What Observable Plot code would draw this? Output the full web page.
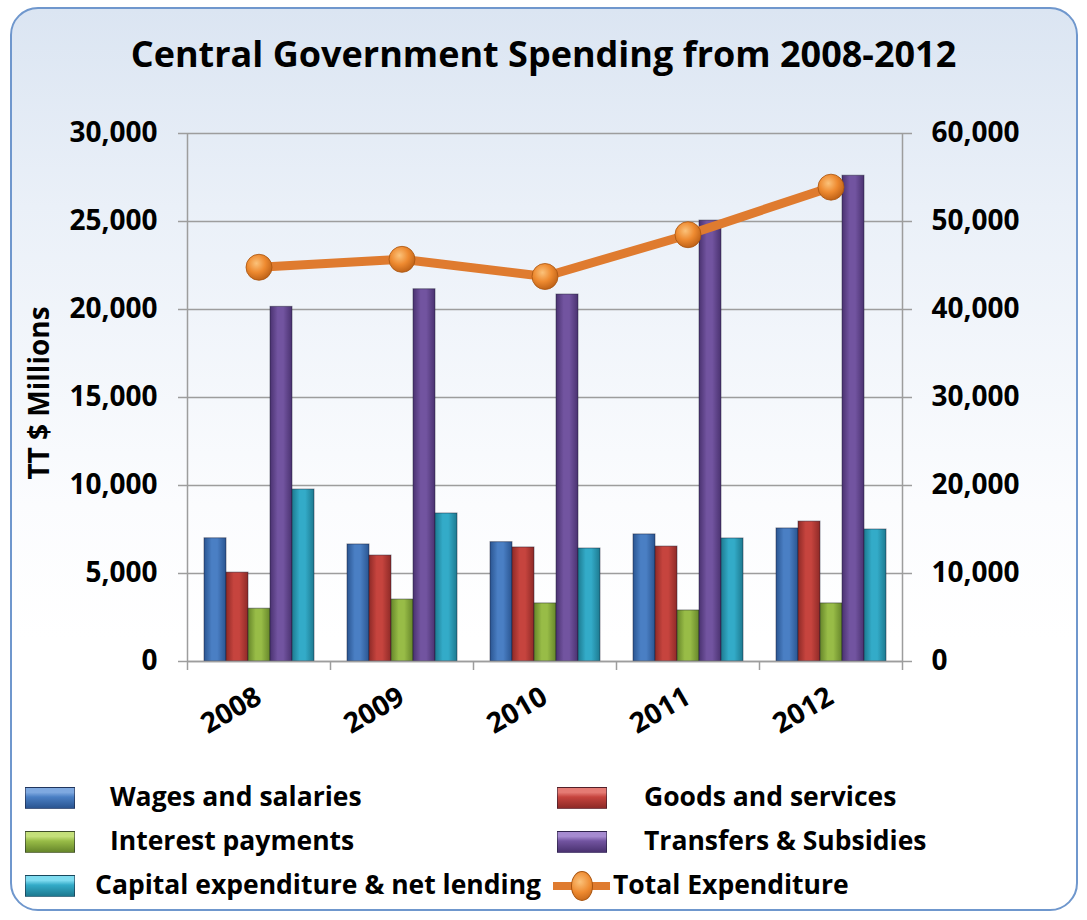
<!DOCTYPE html>
<html><head><meta charset="utf-8">
<script src="https://cdn.jsdelivr.net/npm/d3@7"></script>
<script src="https://cdn.jsdelivr.net/npm/@observablehq/plot@0.6"></script>
<style>
html,body{margin:0;padding:0;background:#fff;overflow:hidden;}
body{font-family:"Open Sans",Lato,sans-serif;width:1087px;height:920px;position:relative;}
#card{position:absolute;left:10px;top:7px;width:1068px;height:904px;border:2.5px solid #6f97cd;border-radius:28px;
  background:linear-gradient(to bottom,#dbe5f2 0%,#eaf0f8 22%,#fbfcfe 55%,#ffffff 70%);box-sizing:border-box;}
#title{position:absolute;left:0;width:1087px;top:30px;text-align:center;font-weight:700;font-size:36px;line-height:48px;color:#000;}
#ylabel{position:absolute;left:38px;top:393px;transform:translate(-50%,-50%) rotate(-90deg);font-weight:700;font-size:28px;white-space:nowrap;color:#000;}
.layer{position:absolute;left:0;top:0;}
.layer svg{background:transparent !important;--plot-background:transparent;overflow:visible;}
.leg{position:absolute;font-weight:700;font-size:26.5px;line-height:30px;white-space:nowrap;color:#000;}
.sw{position:absolute;width:50px;height:22px;box-sizing:border-box;border:1px solid rgba(20,20,40,0.5);}
</style>
</head><body>
<svg width="0" height="0" style="position:absolute">
  <defs id="defs"></defs>
</svg>
<div id="card"></div>
<div id="title">Central Government Spending from 2008-2012</div>
<div id="ylabel">TT $ Millions</div>
<div id="layerA" class="layer"></div>
<div id="layerB" class="layer"></div>
<div id="legend"></div>
<script>
// ---- data ----
const years = ["2008", "2009", "2010", "2011", "2012"];
const seriesNames = ["Wages and salaries", "Goods and services", "Interest payments", "Transfers & Subsidies", "Capital expenditure & net lending"];
const wages = [7000, 6650, 6780, 7220, 7560];
const goods = [5050, 6020, 6480, 6530, 7950];
const interest = [3000, 3520, 3300, 2900, 3300];
const transfers = [20150, 21150, 20850, 25050, 27600];
const capital = [9770, 8410, 6420, 6990, 7500];
const totalName = "Total Expenditure";
const total = [44800, 45700, 43750, 48500, 53900];
const leftTicks = [0, 5000, 10000, 15000, 20000, 25000, 30000];
const rightTicks = [0, 10000, 20000, 30000, 40000, 50000, 60000];

// ---- styles ----
const palette = [
  {main: "#4a7fc4", light: "#7fa9e0", dark: "#2a5591"},
  {main: "#c6443e", light: "#e57b74", dark: "#8e2a27"},
  {main: "#98bc47", light: "#c4e07a", dark: "#66862a"},
  {main: "#7254a0", light: "#a68bd0", dark: "#4a3270"},
  {main: "#33abc8", light: "#7fdcf0", dark: "#1d7a90"}
];
const defs = document.getElementById("defs");
let defsHtml = "";
palette.forEach((p, k) => {
  defsHtml += `<linearGradient id="grad${k}" x1="0" x2="1" y1="0" y2="0">
    <stop offset="0" stop-color="${p.dark}"/><stop offset="0.35" stop-color="${p.main}"/>
    <stop offset="0.6" stop-color="${p.main}"/><stop offset="1" stop-color="${p.dark}"/></linearGradient>`;
});
defsHtml += `<radialGradient id="dotgrad" cx="0.4" cy="0.35" r="0.7">
  <stop offset="0" stop-color="#fbc27a"/><stop offset="0.5" stop-color="#ee8a30"/><stop offset="1" stop-color="#b95d14"/></radialGradient>`;
defs.innerHTML = defsHtml;

const valuesBySeries = [wages, goods, interest, transfers, capital];
const rows = [];
seriesNames.forEach((s, k) => years.forEach((y, i) => rows.push({year: y, series: s, value: valuesBySeries[k][i]})));
const totalRows = years.map((y, i) => ({i, year: y, value: total[i]}));
const bounds = d3.range(years.length + 1).map(i => i - 0.5);
const gray = "#9d9d9d";
const fmt = d3.format(",");

const common = {
  width: 1087, height: 760, marginTop: 133, marginBottom: 99, marginLeft: 187, marginRight: 185,
  style: {background: "transparent", fontFamily: "'Open Sans', Lato, sans-serif", fontSize: "28px", fontWeight: "bold", color: "black", overflow: "visible"}
};

const plotA = Plot.plot({
  ...common,
  fx: {domain: years, padding: 0, label: null, axis: "bottom", tickSize: 0, tickPadding: 33, tickRotate: -30},
  x: {domain: seriesNames, paddingInner: 0, paddingOuter: 0.72, axis: null},
  y: {domain: [0, 30000], ticks: leftTicks, tickFormat: fmt, tickSize: 0, tickPadding: 30, label: null},
  color: {domain: seriesNames, range: seriesNames.map((s, k) => `url(#grad${k})`)},
  marks: [
    Plot.ruleY(leftTicks, {stroke: gray, strokeWidth: 1.5}),
    Plot.barY(rows, {fx: "year", x: "series", y: "value", fill: "series", stroke: "rgba(25,25,45,0.45)", strokeWidth: 1, inset: 0})
  ]
});
document.getElementById("layerA").appendChild(plotA);

const plotB = Plot.plot({
  ...common,
  x: {domain: [bounds[0], bounds[bounds.length - 1]], axis: null},
  y: {domain: [0, 60000], ticks: rightTicks, tickFormat: fmt, axis: "right", tickSize: 0, tickPadding: 29, label: null},
  marks: [
    Plot.ruleX([bounds[0], bounds[bounds.length - 1]], {stroke: gray, strokeWidth: 1.5}),
    Plot.ruleY([0], {stroke: gray, strokeWidth: 1.5}),
    Plot.ruleX(bounds, {y1: 0, y2: 0, insetBottom: -9, stroke: gray, strokeWidth: 1.5}),
    Plot.ruleY(rightTicks, {x1: bounds[0], x2: bounds[0], insetLeft: -9, stroke: gray, strokeWidth: 1.5}),
    Plot.ruleY(rightTicks, {x1: bounds[bounds.length - 1], x2: bounds[bounds.length - 1], insetRight: -10, stroke: gray, strokeWidth: 1.5}),
    Plot.line(totalRows, {x: "i", y: "value", stroke: "#df7b2f", strokeWidth: 9}),
    Plot.dot(totalRows, {x: "i", y: "value", r: 13, fill: "url(#dotgrad)", stroke: "#a8540f", strokeWidth: 0.8})
  ]
});
document.getElementById("layerB").appendChild(plotB);

// ---- legend ----
const legend = document.getElementById("legend");
const legItems = [
  {k: 0, sx: 25, tx: 110, cy: 798},
  {k: 1, sx: 557, tx: 644, cy: 798},
  {k: 2, sx: 25, tx: 110, cy: 842},
  {k: 3, sx: 557, tx: 644, cy: 842},
  {k: 4, sx: 25, tx: 95, cy: 886}
];
legItems.forEach(it => {
  const p = palette[it.k];
  const sw = document.createElement("div");
  sw.className = "sw";
  sw.style.left = it.sx + "px";
  sw.style.top = (it.cy - 11) + "px";
  sw.style.background = `linear-gradient(to bottom, ${p.light} 0%, ${p.light} 22%, ${p.main} 45%, ${p.dark} 100%)`;
  legend.appendChild(sw);
  const t = document.createElement("div");
  t.className = "leg";
  t.style.left = it.tx + "px";
  t.style.top = (it.cy - 17) + "px";
  t.textContent = seriesNames[it.k];
  legend.appendChild(t);
});
// total expenditure symbol
const ln = document.createElement("div");
ln.style.cssText = "position:absolute;left:553px;top:882px;width:57px;height:8px;background:#df7b2f;";
legend.appendChild(ln);
const dt = document.createElement("div");
dt.style.cssText = "position:absolute;left:571px;top:871px;width:22px;height:30px;border-radius:50%;background:radial-gradient(circle at 40% 35%,#fbc27a 0%,#ee8a30 50%,#b95d14 100%);border:1px solid #a8540f;box-sizing:border-box;";
legend.appendChild(dt);
const tt = document.createElement("div");
tt.className = "leg";
tt.style.left = "613px";
tt.style.top = (886 - 17) + "px";
tt.textContent = totalName;
legend.appendChild(tt);
</script>
</body></html>
